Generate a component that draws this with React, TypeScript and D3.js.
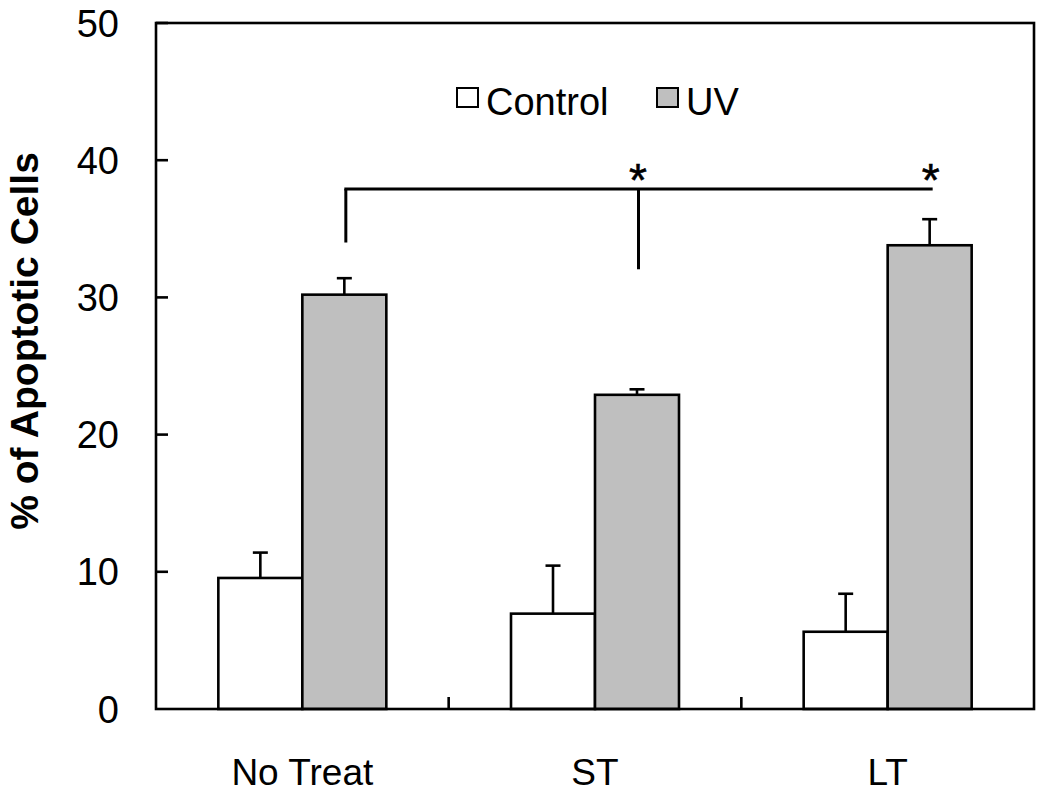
import React from "react";
import * as d3 from "d3";

const categories = ["No Treat", "ST", "LT"];
const series = ["Control", "UV"];
const controlValues = [9.55, 6.95, 5.63];
const controlErrors = [1.85, 3.5, 2.77];
const uvValues = [30.2, 22.9, 33.8];
const uvErrors = [1.2, 0.4, 1.9];
const yTicks = [0, 10, 20, 30, 40, 50];
const seriesFills = ["#ffffff", "#bfbfbf"];
// significance bracket (value units)
const bracketLevel = 37.9;
const bracketDrops = [34.0, 32.05, 37.9];
const starCategories = ["ST", "LT"];

const W = 1050;
const H = 797;
const left = 156;
const right = 1034;
const top = 23;
const bottom = 709;
const FONT = "'Liberation Sans', Arial, Helvetica, sans-serif";

export default function App() {
  const x = d3.scaleBand<string>().domain(categories).range([left, right]).paddingInner(0).paddingOuter(0);
  const y = d3.scaleLinear().domain([0, 50]).range([bottom, top]);
  const bw = x.bandwidth() * 0.287;
  const center = (c: string) => (x(c) as number) + x.bandwidth() / 2;
  const values = [controlValues, uvValues];
  const errors = [controlErrors, uvErrors];
  const capHalf = 7.5;
  const sw = 2.6;

  const uvCenter = (c: string) => center(c) + bw / 2;

  return (
    <svg width={W} height={H} style={{ position: "absolute", left: 0, top: 0, background: "#fff" }} fontFamily={FONT}>
      <rect x={0} y={0} width={W} height={H} fill="#fff" />
      {/* bars */}
      {series.map((s, si) =>
        categories.map((c, ci) => {
          const v = values[si][ci];
          const e = errors[si][ci];
          const x0 = center(c) - bw + si * bw;
          const cx = x0 + bw / 2;
          return (
            <g key={s + c}>
              <line x1={cx} x2={cx} y1={y(v)} y2={y(v + e)} stroke="#000" strokeWidth={sw} />
              <line x1={cx - capHalf} x2={cx + capHalf} y1={y(v + e)} y2={y(v + e)} stroke="#000" strokeWidth={sw} />
              <rect x={x0} y={y(v)} width={bw} height={y(0) - y(v)} fill={seriesFills[si]} stroke="#000" strokeWidth={sw} />
            </g>
          );
        })
      )}
      {/* frame */}
      <rect x={left} y={top} width={right - left} height={bottom - top} fill="none" stroke="#000" strokeWidth={sw} />
      {/* y ticks */}
      {yTicks.map((t) => (
        <g key={t}>
          {t !== 0 && <line x1={left} x2={left + 12} y1={y(t)} y2={y(t)} stroke="#000" strokeWidth={sw} />}
          <text x={119} y={y(t)} dy="0.36em" textAnchor="end" fontSize={38} fill="#000">
            {t}
          </text>
        </g>
      ))}
      {/* x ticks at category boundaries */}
      {categories.slice(1).map((c) => (
        <line key={c} x1={x(c) as number} x2={x(c) as number} y1={bottom} y2={bottom - 12} stroke="#000" strokeWidth={sw} />
      ))}
      {categories.map((c) => (
        <text key={c} x={center(c)} y={785} textAnchor="middle" fontSize={37} fill="#000">
          {c}
        </text>
      ))}
      {/* y label */}
      <text transform={`translate(38, ${341}) rotate(-90)`} textAnchor="middle" fontSize={39} fontWeight="bold" fill="#000">
        % of Apoptotic Cells
      </text>
      {/* legend */}
      <rect x={457} y={88} width={21} height={19} fill={seriesFills[0]} stroke="#000" strokeWidth={2} />
      <text x={486} y={115} fontSize={38} fill="#000">{series[0]}</text>
      <rect x={657} y={88} width={21} height={19} fill={seriesFills[1]} stroke="#000" strokeWidth={2} />
      <text x={686} y={115} fontSize={38} fill="#000">{series[1]}</text>
      {/* significance bracket */}
      <line x1={uvCenter(categories[0])} x2={uvCenter(categories[2]) + 3} y1={y(bracketLevel)} y2={y(bracketLevel)} stroke="#000" strokeWidth={3} />
      {categories.slice(0, 2).map((c, i) => (
        <line key={c} x1={uvCenter(c) + 1.5} x2={uvCenter(c) + 1.5} y1={y(bracketLevel)} y2={y(bracketDrops[i])} stroke="#000" strokeWidth={3} />
      ))}
      {starCategories.map((c) => (
        <text key={c} x={uvCenter(c) + 1} y={y(bracketLevel) + 7} fontSize={46} textAnchor="middle" fill="#000" stroke="#000" strokeWidth={0.6}>
          *
        </text>
      ))}
    </svg>
  );
}
